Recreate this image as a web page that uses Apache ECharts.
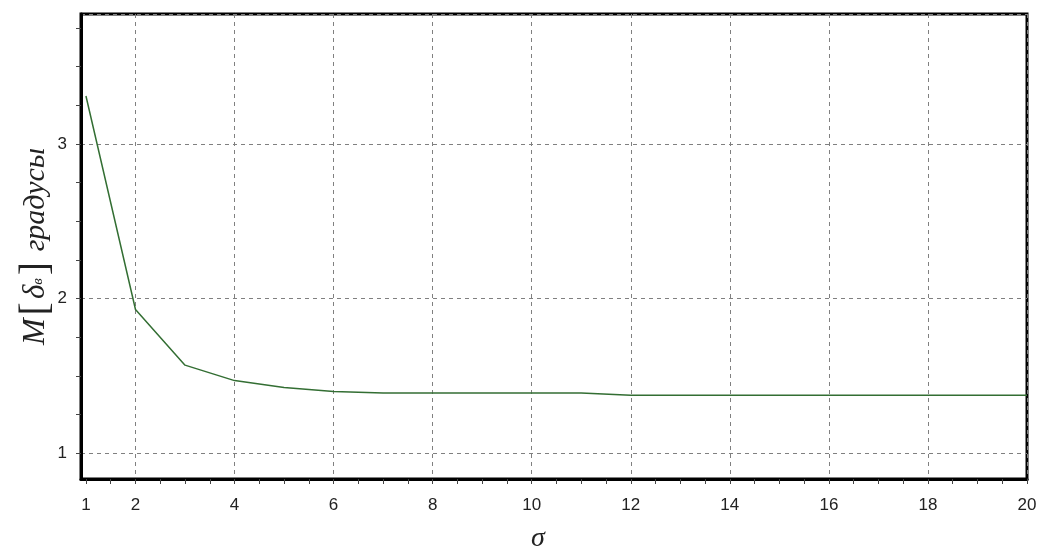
<!DOCTYPE html>
<html>
<head>
<meta charset="utf-8">
<script src="https://cdn.jsdelivr.net/npm/echarts@6/dist/echarts.min.js"></script>
<style>
    html, body {margin: 0; padding: 0; background: #fff;}
    #chartmain {width: 1040px; height: 551px;}
</style>
</head>
<body>
<div id="chartmain"></div>
<script>
// данные кривой
var sigma = [1, 2, 3, 4, 5, 6, 7, 8, 9, 10, 11, 12, 13, 14, 15, 16, 17, 18, 19, 20]
var mDelta = [3.31, 1.93, 1.57, 1.47, 1.425, 1.40, 1.39, 1.39, 1.39, 1.39, 1.39, 1.375, 1.375, 1.375, 1.375, 1.375, 1.375, 1.375, 1.375, 1.375]
// подписи и засечки осей
var xLabels = [1, 2, 4, 6, 8, 10, 12, 14, 16, 18, 20]
var xTicks = [1, 1.5, 2, 2.5, 3, 3.5, 4, 4.5, 5, 5.5, 6, 6.5, 7, 7.5, 8, 8.5, 9, 9.5, 10, 10.5, 11, 11.5, 12, 12.5, 13, 13.5, 14, 14.5, 15, 15.5, 16, 16.5, 17, 17.5, 18, 18.5, 19, 19.5, 20]
var yLabels = [1, 2, 3]
var yTicks = [1, 1.25, 1.5, 1.75, 2, 2.25, 2.5, 2.75, 3, 3.25, 3.5, 3.75]

var xMin = 0.9, xMax = 20
var yMin = 0.834, yMax = 3.84

var data = []
for (var i = 0; i < sigma.length; i++) {
    data.push([sigma[i], mDelta[i]])
}

var gridDash = {show: true, lineStyle: {color: '#808080', width: 1, type: [4, 4]}}
var labelStyle = {color: '#222', fontFamily: 'Liberation Sans', fontSize: 17}

var myChart = echarts.init(document.getElementById('chartmain'), null, {renderer: 'canvas'});
myChart.setOption({
    animation: false,
    backgroundColor: '#fff',
    grid: {
        left: 81, right: 13, top: 14, bottom: 72,
        outerBoundsMode: 'none',
        containLabel: false,
        show: true, borderColor: '#000', borderWidth: 3, backgroundColor: 'transparent'
    },
    xAxis: [{
        type: 'value', min: xMin, max: xMax, splitNumber: 10,
        position: 'bottom',
        name: 'σ',
        nameLocation: 'middle',
        nameGap: 46,
        nameMoveOverlap: false,
        nameTextStyle: {fontFamily: 'Liberation Serif', fontStyle: 'italic', fontSize: 28, color: '#222', padding: [0, 32, 0, 0]},
        axisLine: {show: true, lineStyle: {color: '#000', width: 3}},
        axisTick: {show: false},
        axisLabel: Object.assign({customValues: xLabels, margin: 18}, labelStyle),
        splitLine: gridDash
    }, {
        type: 'value', min: xMin, max: xMax,
        position: 'bottom',
        axisLine: {show: false},
        axisTick: {show: true, customValues: xTicks, length: 5, lineStyle: {color: '#444', width: 1}},
        axisLabel: {show: false},
        splitLine: {show: false}
    }],
    yAxis: [{
        type: 'value', min: yMin, max: yMax, splitNumber: 3,
        position: 'left',
        name: '{m|M}{b|[}{d|δ}{s|в}{b|]}{t| градусы}',
        nameLocation: 'middle',
        nameGap: 25,
        nameMoveOverlap: false,
        nameTextStyle: {
            color: '#222',
            rich: {
                m: {fontFamily: 'Liberation Serif', fontStyle: 'italic', fontSize: 32, color: '#222'},
                b: {fontFamily: 'Liberation Serif', fontSize: 40, color: '#222', padding: [0, 3, 0, 3]},
                d: {fontFamily: 'Liberation Serif', fontStyle: 'italic', fontSize: 31, color: '#222'},
                s: {fontFamily: 'Liberation Serif', fontStyle: 'italic', fontSize: 15, color: '#222', padding: [0, 0, -4, 0]},
                t: {fontFamily: 'Liberation Serif', fontStyle: 'italic', fontSize: 30, color: '#222'}
            }
        },
        axisLine: {show: true, lineStyle: {color: '#000', width: 3}},
        axisTick: {show: false},
        axisLabel: Object.assign({customValues: yLabels, margin: 14}, labelStyle),
        splitLine: gridDash
    }, {
        type: 'value', min: yMin, max: yMax,
        position: 'left',
        axisLine: {show: false},
        axisTick: {show: true, customValues: yTicks, length: 5, lineStyle: {color: '#444', width: 1}},
        axisLabel: {show: false},
        splitLine: {show: false}
    }],
    series: [{
        type: 'line',
        data: data,
        xAxisIndex: 0,
        yAxisIndex: 0,
        showSymbol: false,
        lineStyle: {color: '#336e33', width: 1.5},
        z: 5
    }]
});
</script>
</body>
</html>
